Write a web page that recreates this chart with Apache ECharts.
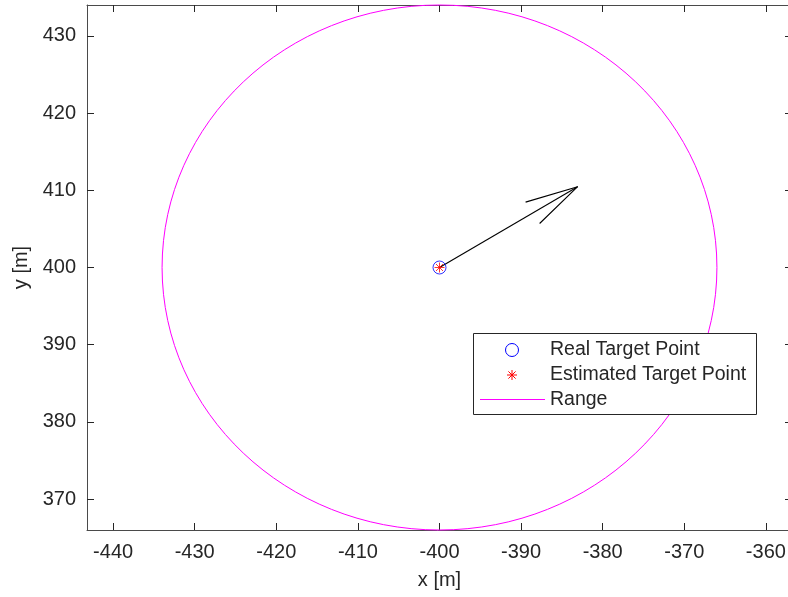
<!DOCTYPE html>
<html>
<head>
<meta charset="utf-8">
<script src="https://cdn.jsdelivr.net/npm/echarts@6/dist/echarts.min.js"></script>
<style>
  html, body { margin: 0; padding: 0; background: #fff; }
  #chart { width: 788px; height: 597px; }
</style>
</head>
<body>
<div id="chart"></div>
<script>
// Axis extents and tick positions
const xRange = [-443.2, -356.8];
const yRange = [366, 434];
const xTicks = [-440, -430, -420, -410, -400, -390, -380, -370, -360];
const yTicks = [370, 380, 390, 400, 410, 420, 430];

// Target positions
const realTarget = [-400, 400];
const estimatedTarget = [-400, 400];

// Range circle: centre and radius in metres
const rangeCenter = [-400, 400];
const rangeRadius = 34;

// Heading arrow: shaft start, tip and the two barb ends
const arrowStart = [-400, 400];
const arrowTip = [-383.07, 410.47];
const arrowBarbA = [-389.45, 408.47];
const arrowBarbB = [-387.73, 405.7];

const textColor = '#262626';
const axisColor = '#4a4a4a';
const fontFamily = 'Arial, "Liberation Sans", Helvetica, sans-serif';
const asteriskPath = 'path://M5 0L5 10M0 5L10 5M1.46 1.46L8.54 8.54M8.54 1.46L1.46 8.54';

function axisBox(pos, isX, ticks, range, showLabels) {
  return {
    type: 'value',
    position: pos,
    min: range[0],
    max: range[1],
    scale: true,
    splitLine: { show: false },
    axisLine: { show: true, onZero: false, lineStyle: { color: axisColor, width: 1 } },
    axisTick: { show: true, inside: true, length: 7, customValues: ticks, lineStyle: { color: textColor } },
    axisLabel: {
      show: showLabels,
      customValues: ticks,
      color: textColor,
      fontSize: 20,
      fontFamily: fontFamily,
      margin: isX ? 12 : 11
    }
  };
}

const chart = echarts.init(document.getElementById('chart'), null, { renderer: 'canvas' });

const xBottom = axisBox('bottom', true, xTicks, xRange, true);
xBottom.name = 'x [m]';
xBottom.nameLocation = 'middle';
xBottom.nameGap = 40;
xBottom.nameTextStyle = { color: textColor, fontSize: 20, fontFamily: fontFamily };
const xTop = axisBox('top', true, xTicks, xRange, false);

const yLeft = axisBox('left', false, yTicks, yRange, true);
yLeft.name = 'y [m]';
yLeft.nameLocation = 'middle';
yLeft.nameGap = 55;
yLeft.nameTextStyle = { color: textColor, fontSize: 20, fontFamily: fontFamily };
const yRight = axisBox('right', false, yTicks, yRange, false);

// Legend entries drawn as a boxed key
const legendBox = { x: 473, y: 333, w: 283, h: 81 };
const legendRows = [350, 375, 400];
const legendTextX = 550;
const starStroke = { stroke: '#ff0000', lineWidth: 1 };
const legendGraphics = [
  {
    type: 'rect', z: 100,
    shape: { x: legendBox.x + 0.5, y: legendBox.y + 0.5, width: legendBox.w, height: legendBox.h },
    style: { fill: '#fff', stroke: textColor, lineWidth: 1 }
  },
  {
    type: 'circle', z: 101,
    shape: { cx: 512, cy: legendRows[0], r: 6.5 },
    style: { fill: 'none', stroke: '#0000ff', lineWidth: 1 }
  },
  { type: 'line', z: 101, shape: { x1: 507, y1: legendRows[1], x2: 517, y2: legendRows[1] }, style: starStroke },
  { type: 'line', z: 101, shape: { x1: 512, y1: legendRows[1] - 5, x2: 512, y2: legendRows[1] + 5 }, style: starStroke },
  { type: 'line', z: 101, shape: { x1: 508.4, y1: legendRows[1] - 3.6, x2: 515.6, y2: legendRows[1] + 3.6 }, style: starStroke },
  { type: 'line', z: 101, shape: { x1: 515.6, y1: legendRows[1] - 3.6, x2: 508.4, y2: legendRows[1] + 3.6 }, style: starStroke },
  {
    type: 'line', z: 101,
    shape: { x1: 480, y1: legendRows[2] - 0.5, x2: 545, y2: legendRows[2] - 0.5 },
    style: { stroke: '#ff00ff', lineWidth: 1 }
  }
];
['Real Target Point', 'Estimated Target Point', 'Range'].forEach(function (label, i) {
  legendGraphics.push({
    type: 'text', z: 101,
    x: legendTextX, y: legendRows[i],
    style: {
      text: label, fill: textColor, fontSize: 19.5, fontFamily: fontFamily,
      verticalAlign: 'middle', align: 'left'
    }
  });
});

chart.setOption({
  animation: false,
  backgroundColor: '#ffffff',
  grid: { left: 87, top: 5, width: 705, height: 525, containLabel: false, outerBoundsMode: 'none' },
  xAxis: [xBottom, xTop],
  yAxis: [yLeft, yRight],
  graphic: legendGraphics,
  series: [
    {
      name: 'Range',
      type: 'custom',
      xAxisIndex: 0, yAxisIndex: 0,
      clip: false,
      data: [[rangeCenter[0], rangeCenter[1], rangeRadius]],
      renderItem: function (params, api) {
        const c = api.coord([api.value(0), api.value(1)]);
        const s = api.size([api.value(2), api.value(2)]);
        return {
          type: 'ellipse',
          shape: { cx: c[0], cy: c[1], rx: s[0], ry: s[1] },
          style: { fill: 'none', stroke: '#ff00ff', lineWidth: 1 }
        };
      }
    },
    {
      name: 'Heading shaft',
      type: 'line',
      data: [arrowStart, arrowTip],
      symbol: 'none',
      lineStyle: { color: '#000', width: 1.1 },
      z: 3
    },
    {
      name: 'Heading head',
      type: 'line',
      data: [arrowBarbA, arrowTip, arrowBarbB],
      symbol: 'none',
      lineStyle: { color: '#000', width: 1.1 },
      z: 3
    },
    {
      name: 'Real Target Point',
      type: 'scatter',
      data: [realTarget],
      symbol: 'circle',
      symbolSize: 13,
      itemStyle: { color: 'transparent', borderColor: '#0000ff', borderWidth: 1 },
      z: 4
    },
    {
      name: 'Estimated Target Point',
      type: 'scatter',
      data: [estimatedTarget],
      symbol: asteriskPath,
      symbolSize: 10,
      itemStyle: { color: 'none', borderColor: '#ff0000', borderWidth: 1 },
      z: 5
    }
  ]
});
</script>
</body>
</html>
